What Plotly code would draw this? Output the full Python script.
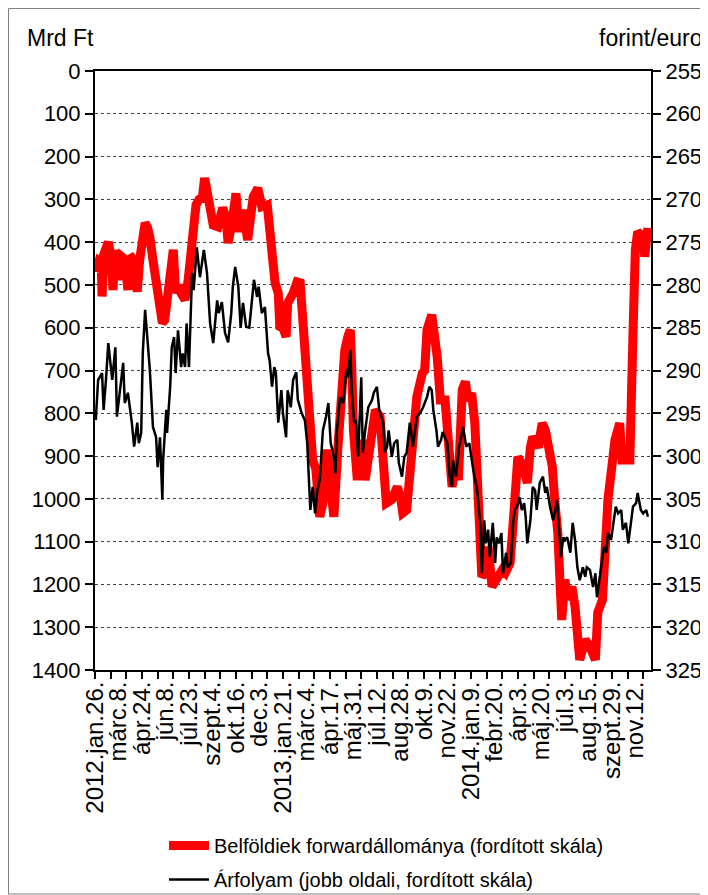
import plotly.graph_objects as go

# x positions are trading-day indices counted from 2012-01-26
x_labels = ["2012.jan.26.", "márc.8.", "ápr.24.", "jún.8.", "júl.23.", "szept.4.", "okt.16.", "dec.3.",
            "2013.jan.21.", "márc.4.", "ápr.17.", "máj.31.", "júl.12.", "aug.28.", "okt.9.", "nov.22.",
            "2014.jan.9.", "febr.20.", "ápr.3.", "máj.20.", "júl.3.", "aug.15.", "szept.29.", "nov.12."]
label_step = 30
minor_step = 20
n_days = 710

# Belföldiek forwardállománya (Mrd Ft, left axis, reversed)
fwd_idx = [1, 5, 8, 9, 11, 17, 20, 23, 25, 26, 29, 31, 34, 38, 42, 44, 47, 50, 54, 57, 61, 64, 67, 70, 74,
           80, 86, 89, 93, 97, 100, 103, 107, 110, 115, 119, 124, 129, 133, 137, 140, 143, 147, 151, 157,
           163, 167, 170, 175, 180, 184, 189, 195, 202, 208, 213, 220, 223, 227, 230, 234, 236, 240, 244,
           246, 253, 258, 262, 266, 271, 275, 278, 282, 285, 287, 291, 296, 299, 302, 305, 310, 315, 319,
           323, 326, 328, 330, 335, 341, 345, 351, 358, 364, 368, 372, 379, 386, 390, 393, 398, 405, 411,
           418, 421, 424, 430, 437, 441, 447, 451, 456, 460, 464, 469, 473, 476, 481, 485, 488, 489, 492,
           494, 498, 502, 507, 513, 520, 524, 530, 534, 536, 540, 547, 552, 556, 559, 566, 571, 575, 579,
           584, 587, 591, 596, 600, 604, 609, 613, 619, 626, 632, 639, 642, 648, 651, 655, 660, 664, 670,
           673, 683, 684, 687, 690, 693, 700, 702, 706]
fwd_val = [470, 445, 450, 527, 430, 400, 430, 512, 430, 418, 488, 440, 434, 440, 512, 440, 437, 445, 516, 442,
           400, 355, 365, 388, 442, 519, 589, 582, 519, 460, 418, 519, 500, 520, 535, 488, 371, 313, 300, 297,
           250, 290, 317, 360, 364, 320, 340, 402, 355, 286, 376, 325, 395, 294, 274, 317, 313, 395, 442, 495,
           519, 597, 600, 621, 543, 519, 493, 495, 589, 706, 831, 909, 930, 986, 1042, 1010, 885, 940, 1030,
           1042, 885, 729, 652, 620, 605, 700, 839, 956, 862, 956, 862, 792, 808, 902, 1010, 1002, 972, 995,
           1033, 1026, 885, 761, 706, 700, 605, 570, 668, 769, 769, 839, 972, 925, 956, 745, 726, 769, 753,
           823, 916, 1010, 1096, 1182, 1173, 1112, 1205, 1189, 1166, 1173, 1150, 1056, 979, 902, 925, 963,
           880, 855, 880, 823, 839, 878, 925, 1002, 1080, 1283, 1189, 1236, 1205, 1252, 1376, 1329, 1346,
           1376, 1266, 1236, 1080, 1002, 925, 862, 823, 909, 909, 753, 612, 418, 376, 388, 434, 367]

# Árfolyam (forint/euro, right axis, reversed)
fx_idx = [1, 4, 9, 11, 14, 17, 22, 26, 28, 32, 36, 38, 42, 47, 50, 54, 56, 59, 61, 64, 68, 70, 74, 78, 80,
          83, 86, 87, 91, 92, 96, 98, 101, 103, 106, 110, 112, 115, 117, 120, 124, 126, 130, 134, 139, 143,
          147, 151, 156, 158, 162, 166, 170, 174, 176, 179, 183, 186, 189, 193, 197, 201, 203, 207, 209, 213,
          217, 221, 223, 226, 229, 231, 234, 238, 240, 244, 246, 250, 253, 257, 259, 264, 268, 271, 272, 275,
          278, 281, 284, 287, 291, 295, 298, 301, 304, 307, 309, 313, 317, 321, 323, 326, 328, 331, 333, 336,
          340, 342, 345, 349, 354, 356, 360, 363, 368, 370, 373, 375, 379, 382, 386, 388, 392, 395, 398, 402,
          406, 411, 415, 419, 424, 427, 430, 432, 436, 438, 442, 444, 450, 453, 456, 457, 461, 465, 470, 474,
          478, 483, 488, 489, 492, 494, 497, 499, 502, 504, 508, 511, 513, 516, 519, 521, 525, 527, 531, 534,
          536, 539, 542, 545, 548, 550, 552, 556, 559, 562, 564, 568, 572, 575, 577, 581, 585, 587, 590, 593,
          595, 598, 600, 603, 607, 610, 613, 616, 619, 623, 626, 628, 632, 636, 639, 641, 644, 648, 650, 653,
          655, 659, 662, 665, 668, 672, 674, 678, 681, 685, 687, 691, 693, 697, 700, 704, 706]
fx_val = [295.8, 291.1, 290.3, 294.6, 291.1, 286.8, 291.1, 287.3, 295.4, 291.9, 289.1, 293.8, 292.6, 296.1,
          298.9, 296.1, 298.5, 297.3, 288.0, 282.9, 287.3, 289.9, 296.6, 297.8, 301.3, 297.8, 305.1, 300.5,
          294.6, 297.3, 291.9, 287.3, 286.1, 290.3, 285.3, 289.6, 288.0, 289.6, 284.5, 289.6, 278.6, 280.6,
          275.6, 279.1, 275.9, 278.6, 284.5, 286.8, 281.8, 283.3, 282.0, 285.6, 286.7, 283.3, 280.2, 277.9,
          280.2, 285.0, 282.1, 284.9, 285.0, 280.6, 279.4, 281.4, 280.2, 283.3, 282.6, 288.0, 288.8, 291.9,
          289.6, 290.3, 296.1, 292.3, 295.0, 297.8, 292.3, 294.3, 291.1, 290.2, 293.4, 295.0, 295.8, 298.5,
          300.5, 306.3, 303.6, 306.7, 304.0, 302.8, 297.0, 295.4, 293.8, 298.5, 299.6, 302.0, 297.0, 293.1,
          293.8, 289.9, 290.8, 287.6, 292.6, 296.1, 295.8, 300.1, 290.8, 299.6, 297.0, 294.3, 293.4, 292.6,
          291.9, 294.6, 296.1, 299.6, 298.9, 297.0, 300.1, 298.5, 298.1, 300.8, 302.4, 300.1, 299.6, 296.1,
          298.9, 295.4, 295.0, 294.3, 293.1, 291.9, 292.3, 294.6, 297.0, 298.9, 298.1, 297.2, 298.5, 302.4,
          303.6, 300.5, 302.4, 298.9, 296.6, 298.9, 298.5, 301.6, 304.0, 304.8, 307.8, 313.7, 307.5, 310.2,
          308.6, 311.8, 307.8, 312.5, 309.5, 310.2, 309.0, 313.7, 311.3, 313.0, 312.5, 307.8, 306.3, 305.9,
          304.8, 306.3, 305.5, 307.1, 310.2, 307.5, 303.6, 304.0, 306.3, 303.1, 302.4, 304.3, 303.6, 305.9,
          307.5, 306.7, 305.1, 309.0, 311.8, 309.5, 309.8, 309.5, 311.3, 307.8, 309.8, 313.0, 314.5, 313.0,
          314.1, 313.0, 313.3, 315.3, 313.7, 316.5, 314.5, 311.8, 310.6, 311.3, 309.0, 309.8, 307.5, 305.9,
          306.7, 306.3, 308.6, 307.8, 310.2, 307.5, 305.9, 305.5, 304.3, 306.3, 306.7, 306.3, 307.1]

left_ticks = list(range(0, 1401, 100))
right_ticks = list(range(255, 326, 5))

FONT = "Liberation Sans"
OFF = 8                      # page body margin
W, H = 708 - OFF, 895 - OFF
# plot area in screenshot pixels: left 95, right 651, top 71, bottom 670
ML, MT = 95 - OFF, 71 - OFF
MR = W - (651 - OFF)
MB = H - (670 - OFF)
PW, PH = W - ML - MR, H - MT - MB


def px_x(p):
    return (p - OFF - ML) / PW


def px_y(p):
    return (H - MB - (p - OFF)) / PH


fig = go.Figure()
fig.add_trace(go.Scatter(
    x=fwd_idx, y=fwd_val, mode="lines", name="Belföldiek forwardállománya (fordított skála)",
    line=dict(color="#FF0000", width=9), xaxis="x", yaxis="y", legendgroup="a"))
fig.add_trace(go.Scatter(
    x=fx_idx, y=fx_val, mode="lines", name="Árfolyam (jobb oldali, fordított skála)",
    line=dict(color="#000000", width=2.5), xaxis="x2", yaxis="y2", legendgroup="b"))

fig.update_layout(
    width=W, height=H,
    margin=dict(l=ML, r=MR, t=MT, b=MB, autoexpand=False),
    paper_bgcolor="white", plot_bgcolor="white",
    font=dict(family=FONT, color="black", size=22),
    xaxis=dict(range=[0, n_days], tickmode="array",
               tickvals=[i * label_step for i in range(len(x_labels))], ticktext=x_labels,
               tickangle=-90, ticks="", showgrid=False, zeroline=False,
               showline=True, linecolor="black", linewidth=2, mirror=True,
               tickfont=dict(size=24)),
    xaxis2=dict(range=[0, n_days], overlaying="x", anchor="y", side="bottom",
                tickmode="linear", tick0=0, dtick=minor_step, ticks="outside", ticklen=8,
                tickwidth=1.5, tickcolor="black", showticklabels=False, showgrid=False,
                zeroline=False, showline=False),
    yaxis=dict(range=[1400, 0], tickmode="array", tickvals=left_ticks, ticks="outside",
               ticklen=8, tickwidth=1.5, tickcolor="black", showgrid=True, gridcolor="#444444",
               griddash="dot", gridwidth=1, zeroline=False, showline=True, linecolor="black",
               linewidth=2, tickfont=dict(size=22)),
    yaxis2=dict(range=[325, 255], overlaying="y", side="right", anchor="x2", tickmode="array",
                tickvals=right_ticks, ticks="outside", ticklen=8, tickwidth=1.5, tickcolor="black",
                showgrid=False, zeroline=False, showline=True, linecolor="black", linewidth=2,
                tickfont=dict(size=22)),
    showlegend=True,
    legend=dict(x=px_x(164), y=px_y(826), xanchor="left", yanchor="top", orientation="v",
                font=dict(size=20), bgcolor="rgba(0,0,0,0)", tracegroupgap=5, itemwidth=40),
    annotations=[
        dict(text="Mrd Ft", xref="paper", yref="paper", x=px_x(25), y=px_y(38),
             xanchor="left", yanchor="middle", showarrow=False, font=dict(size=23)),
        dict(text="forint/euro", xref="paper", yref="paper", x=px_x(705), y=px_y(38),
             xanchor="right", yanchor="middle", showarrow=False, font=dict(size=23)),
    ],
    shapes=[dict(type="rect", xref="paper", yref="paper", x0=px_x(8.5), x1=px_x(707),
                 y0=px_y(894), y1=px_y(8.5), line=dict(color="#808080", width=1), layer="below")],
)

fig.write_html("out.html")
